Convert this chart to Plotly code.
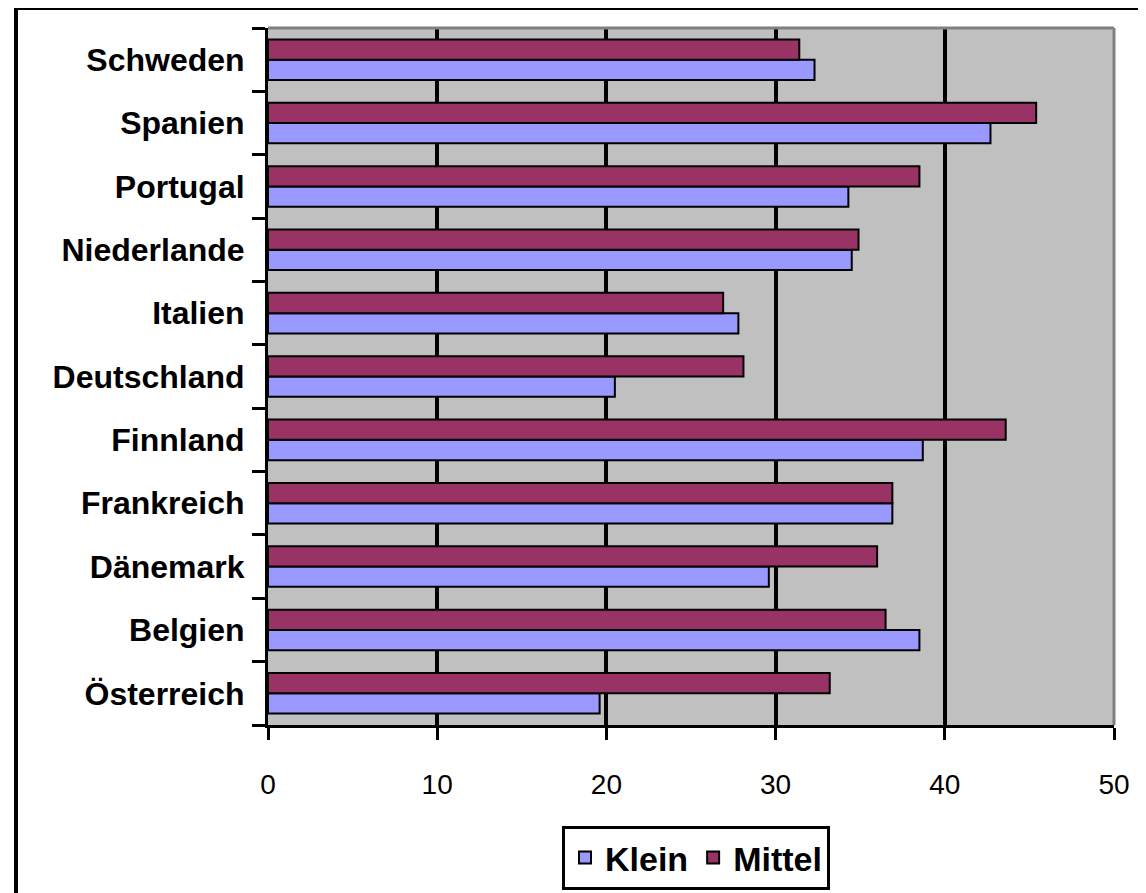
import plotly.graph_objects as go

countries = ["Österreich", "Belgien", "Dänemark", "Frankreich", "Finnland",
             "Deutschland", "Italien", "Niederlande", "Portugal", "Spanien", "Schweden"]
klein = [19.6, 38.5, 29.6, 36.9, 38.7, 20.5, 27.8, 34.5, 34.3, 42.7, 32.3]
mittel = [33.2, 36.5, 36.0, 36.9, 43.6, 28.1, 26.9, 34.9, 38.5, 45.4, 31.4]
x_ticks = [0, 10, 20, 30, 40, 50]

OFF = 8  # default page body margin
W, H = 1146 - OFF, 893 - OFF
L, R, T, B = 268 - OFF, 32, 28 - OFF, 168
pw, ph = W - L - R, H - T - B

def px_x(p):
    return (p - OFF - L) / pw

def px_y(p):
    return (H - B - (p - OFF)) / ph

fig = go.Figure()
fig.add_trace(go.Bar(y=countries, x=klein, orientation="h", name="Klein",
                     marker=dict(color="#9999FF", line=dict(color="black", width=2))))
fig.add_trace(go.Bar(y=countries, x=mittel, orientation="h", name="Mittel",
                     marker=dict(color="#993366", line=dict(color="black", width=2))))

fig.update_layout(
    width=W, height=H,
    margin=dict(l=L, r=R, t=T, b=B, pad=0, autoexpand=False),
    paper_bgcolor="white",
    plot_bgcolor="#C0C0C0",
    barmode="group",
    bargap=0.36,
    bargroupgap=0.0,
    font=dict(family="Liberation Sans, Arial, sans-serif", color="black"),
    showlegend=True,
    legend=dict(orientation="h", x=px_x(696), xanchor="center",
                y=px_y(826), yanchor="top",
                bordercolor="black", borderwidth=3, bgcolor="white",
                font=dict(size=34, weight="bold"), traceorder="normal",
                itemwidth=30),
    xaxis=dict(range=[0, 50], tickvals=x_ticks, ticktext=[str(v) for v in x_ticks],
               showgrid=True, gridcolor="black", gridwidth=3.5,
               zeroline=False, showline=True, linecolor="black", linewidth=3,
               ticks="outside", ticklen=12, tickwidth=3, tickcolor="black",
               ticklabelstandoff=20, automargin=False,
               tickfont=dict(size=28, family="Liberation Sans, Arial, sans-serif")),
    yaxis=dict(categoryorder="array", categoryarray=countries,
               showgrid=False, zeroline=False, showline=True,
               linecolor="black", linewidth=3, automargin=False,
               ticks="outside", tickson="boundaries", ticklen=13, tickwidth=3,
               tickcolor="black", ticklabelstandoff=14,
               tickfont=dict(size=32, family="Liberation Sans, Arial, sans-serif",
                             weight="bold")),
    shapes=[
        dict(type="line", xref="paper", yref="paper", x0=0, x1=1, y0=1, y1=1,
             line=dict(color="#808080", width=3)),
        dict(type="line", xref="paper", yref="paper", x0=1, x1=1, y0=0, y1=1,
             line=dict(color="#808080", width=3)),
        dict(type="rect", xref="paper", yref="paper",
             x0=px_x(16), x1=px_x(1170), y0=px_y(920), y1=px_y(8),
             line=dict(color="black", width=4), fillcolor="rgba(0,0,0,0)",
             layer="below"),
    ],
)

fig.write_html("out.html")
